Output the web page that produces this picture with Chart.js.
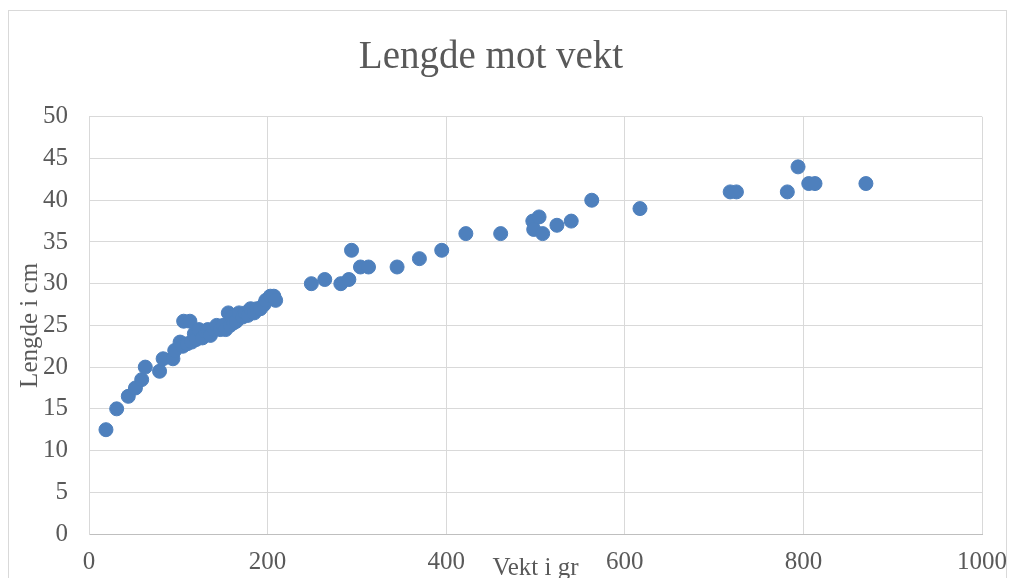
<!DOCTYPE html>
<html>
<head>
<meta charset="utf-8">
<script src="https://cdn.jsdelivr.net/npm/chart.js@4"></script>
<style>
  html, body { margin: 0; padding: 0; background: #fff; }
  #wrap { width: 1010px; height: 578px; position: relative; }
</style>
</head>
<body>
<div id="wrap"><canvas id="chartLengde"></canvas></div>
<script>
// --- Data (vekt i gr / lengde i cm) ---
const vekt = [
    19, 31, 44, 52, 59, 63, 79, 83, 94, 96,
    102, 105, 106, 110, 113, 115, 118, 120, 123, 127,
    130, 133, 136, 140, 143, 147, 150, 153, 156, 158,
    160, 162, 165, 168, 172, 175, 178, 181, 185, 188,
    192, 196, 198, 203, 207, 209,
    249, 264, 282, 291, 294, 304, 313, 345, 370, 395,
    422, 461, 497, 504, 498, 508, 524, 540, 563, 617,
    718, 725, 782, 794, 806, 813, 870
];
const lengde = [
    12.5, 15, 16.5, 17.5, 18.5, 20, 19.5, 21, 21, 22,
    23, 22.5, 25.5, 22.8, 25.5, 23, 24, 23.3, 24.5, 23.5,
    24.3, 24.5, 23.8, 24.5, 25, 24.5, 25, 24.5, 26.5, 25,
    26, 25.3, 25.5, 26.5, 26, 26.5, 26.2, 27, 26.5, 27,
    27, 27.5, 28, 28.5, 28.5, 28,
    30, 30.5, 30, 30.5, 34, 32, 32, 32, 33, 34,
    36, 36, 37.5, 38, 36.5, 36, 37, 37.5, 40, 39,
    41, 41, 41, 44, 42, 42, 42
];
const xTicks = [0, 200, 400, 600, 800, 1000];
const yTicks = [0, 5, 10, 15, 20, 25, 30, 35, 40, 45, 50];

const punkter = vekt.map((v, i) => ({ x: v, y: lengde[i] }));

const tekstFarge = "#595959";
const gridFarge = "#d9d9d9";
const font = "'Liberation Serif', 'DejaVu Serif', serif";

// ramme rundt diagrammet
const ramme = {
    id: "ramme",
    beforeDraw(chart) {
        const ctx = chart.ctx;
        ctx.save();
        ctx.fillStyle = "#fff";
        ctx.fillRect(0, 0, chart.width, chart.height);
        ctx.strokeStyle = "#d9d9d9";
        ctx.lineWidth = 1;
        ctx.strokeRect(8.5, 10.5, 998, 620);
        ctx.restore();
    }
};

const ctx = document.getElementById("chartLengde").getContext("2d");
new Chart(ctx, {
    type: "scatter",
    data: {
        datasets: [{
            label: "Lengde",
            data: punkter,
            backgroundColor: "#4e80bd",
            borderColor: "#4e80bd",
            borderWidth: 1,
            pointRadius: 7
        }]
    },
    options: {
        responsive: true,
        maintainAspectRatio: false,
        animation: false,
        layout: { padding: { top: 0, left: 0, right: 28, bottom: 0 } },
        plugins: {
            legend: { display: false },
            tooltip: { enabled: false },
            title: {
                display: true,
                text: "Lengde mot vekt",
                color: tekstFarge,
                font: { family: font, size: 39, weight: "normal" },
                padding: { top: 34, bottom: 36 }
            }
        },
        scales: {
            x: {
                type: "linear",
                min: 0,
                max: 1000,
                afterFit: (s) => { s.height = 44; s.paddingLeft = 0; s.paddingRight = 0; },
                afterBuildTicks: (s) => { s.ticks = xTicks.map(v => ({ value: v })); },
                ticks: {
                    color: tekstFarge,
                    font: { family: font, size: 25 },
                    padding: 13,
                    maxRotation: 0,
                    callback: (v) => String(v)
                },
                grid: { color: gridFarge, drawTicks: false },
                border: { color: "#bfbfbf" },
                title: {
                    display: true,
                    text: "Vekt i gr",
                    color: tekstFarge,
                    font: { family: font, size: 25 },
                    padding: { top: 0, bottom: -5.5 }
                }
            },
            y: {
                type: "linear",
                min: 0,
                max: 50,
                afterFit: (s) => { s.width = 89; s.paddingTop = 0; s.paddingBottom = 0; },
                afterBuildTicks: (s) => { s.ticks = yTicks.map(v => ({ value: v })); },
                ticks: {
                    color: tekstFarge,
                    font: { family: font, size: 25 },
                    padding: 21,
                    callback: (v) => String(v)
                },
                grid: { color: gridFarge, drawTicks: false },
                border: { color: gridFarge },
                title: {
                    display: true,
                    text: "Lengde i cm",
                    color: tekstFarge,
                    font: { family: font, size: 25 },
                    padding: { top: 15, bottom: 0 }
                }
            }
        }
    },
    plugins: [ramme]
});
</script>
</body>
</html>
